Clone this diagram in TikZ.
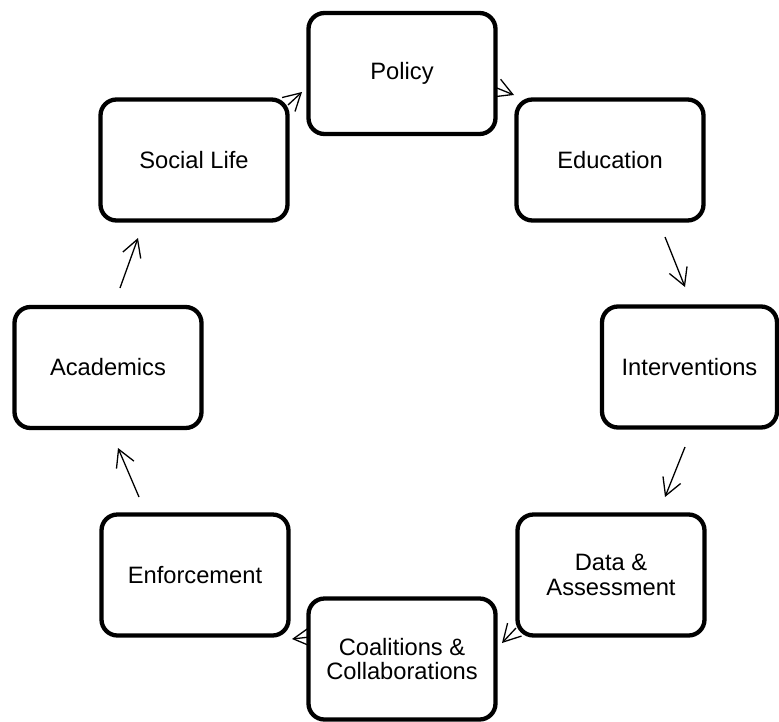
\documentclass[tikz,border=0pt]{standalone}
\usepackage{fontspec}
\setmainfont{Liberation Sans}
\usetikzlibrary{arrows.meta,calc,backgrounds}
\tikzset{
  stage/.style={draw=black, line width=4.3pt, rounded corners=16pt, fill=white,
    align=center, minimum width=187pt, minimum height=121pt, inner sep=0pt,
    font=\fontsize{23.7}{24.6}\selectfont},
  flow/.style={line width=1.3pt, -{Straight Barb[length=17pt,width=19pt,line width=1.3pt]}}
}
\begin{document}
\begin{tikzpicture}[x=1pt,y=-1pt]
\useasboundingbox (0,0) rectangle (779,721);
\node[stage] (pol)  at (402,73.5) {Policy};
\node[stage] (edu)  at (610,160) {Education};
\node[stage, minimum width=175pt] (int) at (689.5,367) {Interventions};
\node[stage] (data) at (611,575) {Data \&\\Assessment};
\node[stage] (coal) at (402,659) {Coalitions \&\\Collaborations};
\node[stage] (enf)  at (195,575) {Enforcement};
\node[stage] (acad) at (108,367.5) {Academics};
\node[stage] (soc)  at (194,160) {Social Life};
\begin{scope}[on background layer]
\draw[flow] ($(soc)+(94,-55)$) -- ($(pol)+(-100,18.5)$);
\draw[flow] ($(pol)+(90,12.5)$) -- ($(edu)+(-96,-65)$);
\draw[flow] ($(edu)+(55,77)$) -- ($(int)+(-4.5,-80)$);
\draw[flow] ($(int)+(-4.5,80)$) -- ($(data)+(54,-78)$);
\draw[flow] ($(data)+(-95,53)$) -- ($(coal)+(100,-16)$);
\draw[flow] ($(coal)+(-92,-22)$) -- ($(enf)+(97,64)$);
\draw[flow] ($(enf)+(-56,-78)$) -- ($(acad)+(10,80.5)$);
\draw[flow] ($(acad)+(12,-79.5)$) -- ($(soc)+(-56,78)$);
\end{scope}
\end{tikzpicture}
\end{document}
